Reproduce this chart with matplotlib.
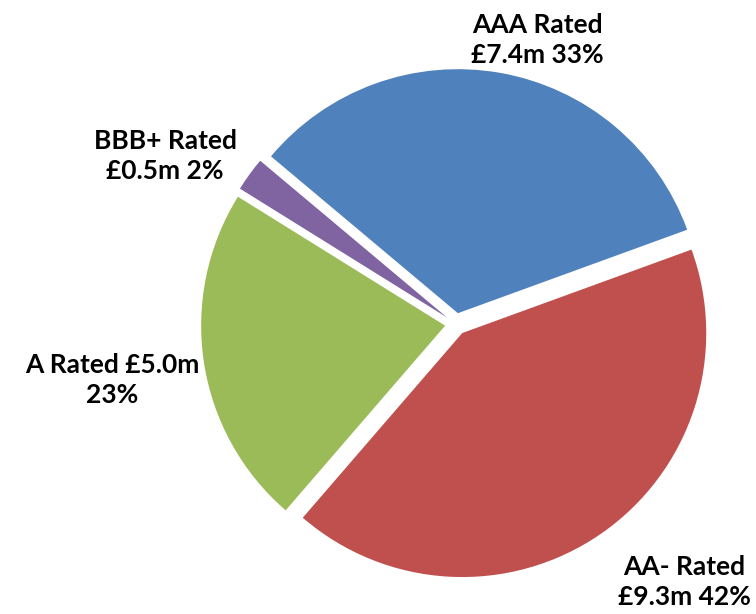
import matplotlib
matplotlib.use('Agg')
import matplotlib.pyplot as plt

# data
ratings = ["AAA Rated", "BBB+ Rated", "A Rated", "AA- Rated"]
amounts = [7.4, 0.5, 5.0, 9.3]          # £m
amount_labels = ["£7.4m", "£0.5m", "£5.0m", "£9.3m"]
pct_labels = ["33%", "2%", "23%", "42%"]
colours = ["#4F81BD", "#8064A2", "#9BBB59", "#C0504D"]

plt.rcParams['font.family'] = ['Lato', 'DejaVu Sans']

W, H = 756, 614
cx, cy, r = 456, 324, 244   # pie centre and radius in pixels

fig = plt.figure(figsize=(W / 100, H / 100), dpi=100)
ax = fig.add_axes([0, 0, 1, 1])

ax.pie(amounts, colors=colours, startangle=20, counterclock=True,
       explode=[0.045] * 4, radius=1.0,
       wedgeprops=dict(linewidth=0))

# axes limits so one data unit == r pixels
ax.set_xlim(-cx / r, (W - cx) / r)
ax.set_ylim(-(H - cy) / r, cy / r)
ax.set_aspect('auto')
ax.axis('off')


def px(x, y):
    return (x - cx) / r, (cy - y) / r


label_style = dict(ha='center', va='center', fontsize=19, fontweight='bold',
                   color='black', linespacing=1.3)

# label text positions (pixel coords from the reference)
ax.text(*px(537, 40), ratings[0] + "\n" + amount_labels[0] + " " + pct_labels[0], **label_style)
ax.text(*px(165, 156), ratings[1] + "\n" + amount_labels[1] + " " + pct_labels[1], **label_style)
ax.text(*px(112, 380), ratings[2] + " " + amount_labels[2] + "\n" + pct_labels[2], **label_style)
ax.text(*px(684, 582), ratings[3] + "\n" + amount_labels[3] + " " + pct_labels[3], **label_style)

fig.savefig("out.png", dpi=100)
